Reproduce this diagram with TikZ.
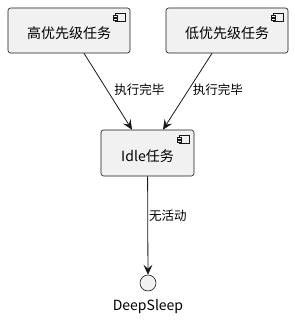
\documentclass[tikz,border=0pt]{standalone}
\usepackage{fontspec}
\setmainfont{Noto Sans CJK SC}
\usetikzlibrary{positioning,arrows.meta}
\definecolor{boxfill}{HTML}{F1F1F1}
\definecolor{boxline}{HTML}{181818}
\tikzset{
  flowarrow/.style={-{Stealth[length=10pt,width=9pt,inset=4pt]}, draw=boxline, line width=0.8pt},
  compbox/.style={draw=boxline, fill=boxfill, rounded corners=2.5pt, line width=0.6pt, minimum width=122pt, minimum height=45pt, align=center, font=\fontsize{14}{16}\selectfont, text depth=0pt},
  idlebox/.style={compbox, minimum width=93pt, minimum height=46pt},
  endpoint/.style={draw=boxline, fill=boxfill, circle, line width=0.6pt, minimum size=16pt, inner sep=0pt},
  relabel/.style={font=\fontsize{12.5}{14}\selectfont, inner sep=1pt, anchor=west}
}
% small component icon at the top right corner of a box
\newcommand{\compicon}[1]{%
  \draw[boxline, line width=0.5pt, fill=boxfill] ([xshift=-15pt,yshift=-6pt]#1.north east) rectangle ++(10pt,-8pt);
  \draw[boxline, line width=0.5pt, fill=boxfill] ([xshift=-17pt,yshift=-8pt]#1.north east) rectangle ++(4pt,-1.5pt);
  \draw[boxline, line width=0.5pt, fill=boxfill] ([xshift=-17pt,yshift=-11pt]#1.north east) rectangle ++(4pt,-1.5pt);
}

\begin{document}
\begin{tikzpicture}[x=1pt, y=-1pt]
  \useasboundingbox (0,0) rectangle (294,320);
  \node[compbox] (hi) at (69,30.5) {\raisebox{-5pt}{高优先级任务}};
  \node[compbox] (lo) at (227,30.5) {\raisebox{-5pt}{低优先级任务}};
  \node[idlebox] (idle) at (147.5,153) {\raisebox{-5pt}{Idle任务}};
  \node[endpoint] (deep) at (148,283) {};
  \node[font=\fontsize{14}{16}\selectfont] (deeplabel) at (148,307) {DeepSleep};
  \compicon{hi}
  \compicon{lo}
  \compicon{idle}
  \draw[flowarrow] ([xshift=15pt]hi.south) -- ([xshift=-15.5pt]idle.north) node[relabel, pos=0.48, xshift=6pt] {执行完毕};
  \draw[flowarrow] ([xshift=-15pt]lo.south) -- ([xshift=15.5pt]idle.north) node[relabel, pos=0.48, xshift=3pt] {执行完毕};
  \draw[flowarrow] (idle) -- (deep) node[relabel, pos=0.4] {无活动};
\end{tikzpicture}
\end{document}
